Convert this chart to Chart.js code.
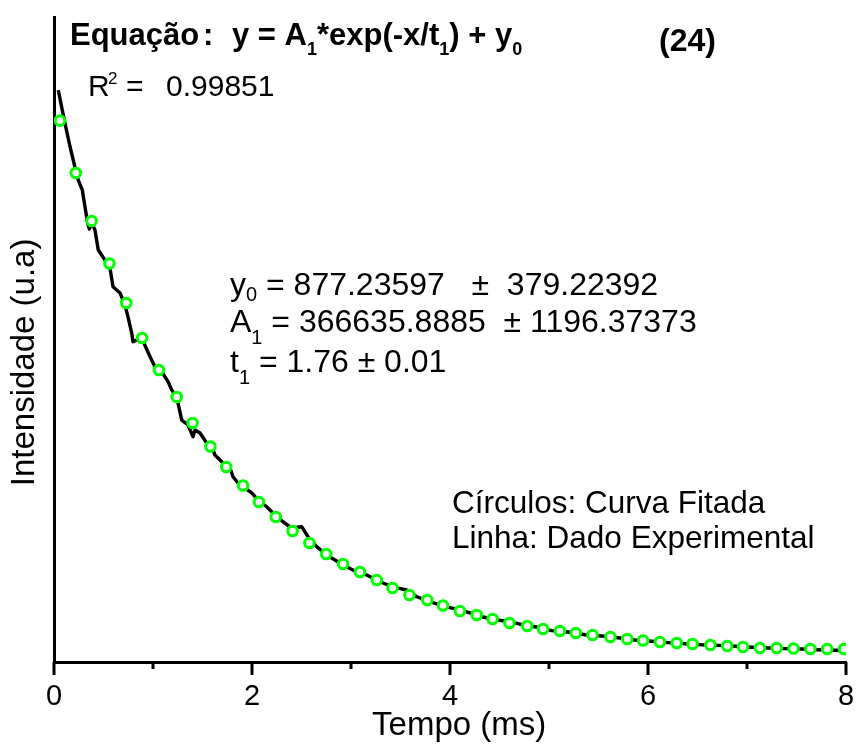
<!DOCTYPE html>
<html><head><meta charset="utf-8">
<script src="https://cdn.jsdelivr.net/npm/chart.js@4.4.0/dist/chart.umd.min.js"></script>
<style>html,body{margin:0;padding:0;background:#fff}canvas{display:block}</style>
</head><body>
<canvas id="c" width="858" height="746"></canvas>
<script>
// Fitted curve (circles)
const fitX = [0.06,0.22,0.38,0.56,0.73,0.89,1.06,1.24,1.40,1.58,1.74,1.91,2.07,2.24,2.41,2.58,2.75,2.92,3.09,3.26,3.42,3.59,3.77,3.93,4.10,4.27,4.43,4.60,4.78,4.94,5.11,5.27,5.44,5.62,5.79,5.95,6.12,6.29,6.45,6.63,6.80,6.96,7.13,7.30,7.47,7.64,7.81,7.98];
const fitY = [355900,321000,289000,260700,234300,211000,189700,171700,154300,138700,125000,112700,101700,91700,82300,74300,67000,60300,55000,49700,44300,39700,36300,32700,29000,26300,23700,21000,19000,17000,15700,14300,13000,11700,10300,9300,8300,7700,7000,6300,5700,5000,4300,4300,4000,3700,3700,3700];
// Experimental data (black line)
const expX = [0.043,0.111,0.162,0.202,0.245,0.286,0.313,0.340,0.357,0.381,0.414,0.447,0.482,0.532,0.559,0.596,0.667,0.717,0.747,0.785,0.798,0.835,0.886,0.970,1.020,1.088,1.152,1.189,1.239,1.290,1.354,1.404,1.424,1.475,1.542,1.593,1.626,1.707,1.778,1.808,1.859,1.929,1.997,2.061,2.148,2.232,2.313,2.401,2.502,2.566,2.654,2.755,2.838,2.919,3.020,3.159,3.293,3.374,3.475,3.562,3.664,3.798,3.929,4.068,4.202,4.333,4.472,4.606,4.737,4.876,5.027,5.192,5.364,5.532,5.697,5.869,6.037,6.202,6.374,6.542,6.707,6.879,7.047,7.212,7.384,7.552,7.717,7.889,8.000];
const expY = [376300,354100,338500,327500,316300,309700,298500,287500,283700,287700,283000,269700,266300,261200,260300,245200,241000,233000,225200,214300,208500,209700,211000,198500,191900,188500,181900,176300,171700,156300,153000,145200,149700,147700,141000,138500,133000,127700,124300,118500,114300,111000,107700,103000,98500,93000,88500,84300,85200,78500,71900,66300,63000,59700,56300,53000,48500,46300,44300,43000,38500,35200,32300,30300,27700,25000,23000,21900,19700,18300,15900,15000,13200,12300,11200,9700,8800,7900,7200,6500,6100,5500,4800,4300,3900,3700,3200,2800,2500];
const xMajorTicks = [0,2,4,6,8];
const xMinorTicks = [1,3,5,7];
const xTitle = '  Tempo (ms)';
const yTitle = 'Intensidade (u.a)     ';
const legendLines = ['Círculos: Curva Fitada', 'Linha: Dado Experimental'];

const FONT = '"Liberation Sans", Arial, Helvetica, sans-serif';
Chart.defaults.font.family = FONT;
Chart.defaults.color = '#000';

function runs(ctx, x, y, parts) {
  for (const p of parts) {
    ctx.font = p.f;
    if (p.x !== undefined) x = p.x;
    ctx.fillText(p.t, x, y + (p.dy || 0));
    x += ctx.measureText(p.t).width;
  }
}

const overlay = {
  id: 'overlay',
  afterDraw(chart) {
    const ctx = chart.ctx;
    const xs = chart.scales.x;
    const b = chart.chartArea.bottom;
    ctx.save();
    ctx.strokeStyle = '#000';
    ctx.lineWidth = 3;
    ctx.lineCap = 'butt';
    xMajorTicks.forEach(v => { const p = xs.getPixelForValue(v); ctx.beginPath(); ctx.moveTo(p, b); ctx.lineTo(p, b + 13); ctx.stroke(); });
    xMinorTicks.forEach(v => { const p = xs.getPixelForValue(v); ctx.beginPath(); ctx.moveTo(p, b); ctx.lineTo(p, b + 7); ctx.stroke(); });

    ctx.fillStyle = '#000';
    ctx.textAlign = 'left';
    ctx.textBaseline = 'alphabetic';
    const B = 'bold 31px ' + FONT, Bs = 'bold 18px ' + FONT;
    runs(ctx, 70, 45, [
      {t: 'Equação', f: B},
      {t: ':', f: B, x: 203},
      {t: 'y = A', f: B, x: 232},
      {t: '1', f: Bs, dy: 10},
      {t: '*exp(-x/t', f: B},
      {t: '1', f: Bs, dy: 10},
      {t: ') + y', f: B},
      {t: '0', f: Bs, dy: 10}
    ]);
    runs(ctx, 659, 51, [{t: '(24)', f: 'bold 32px ' + FONT}]);

    const N30 = '30px ' + FONT;
    runs(ctx, 88, 96, [{t: 'R', f: N30}]);
    runs(ctx, 108, 84, [{t: '2', f: '17px ' + FONT}]);
    runs(ctx, 126, 96, [{t: '=', f: N30}]);
    runs(ctx, 166, 96, [{t: '0.99851', f: N30}]);

    const N = '32px ' + FONT, Ns = '20px ' + FONT;
    runs(ctx, 230, 295, [{t: 'y', f: N}, {t: '0', f: Ns, dy: 6}, {t: ' = 877.23597   \u00b1  379.22392', f: N}]);
    runs(ctx, 230, 332, [{t: 'A', f: N}, {t: '1', f: Ns, dy: 12}, {t: ' = 366635.8885  \u00b1 1196.37373', f: N}]);
    runs(ctx, 230, 372, [{t: 't', f: N}, {t: '1', f: Ns, dy: 12}, {t: ' = 1.76 \u00b1 0.01', f: N}]);

    const L = '31.5px ' + FONT;
    runs(ctx, 452, 513, [{t: legendLines[0], f: L}]);
    runs(ctx, 452, 548, [{t: legendLines[1], f: L}]);
    ctx.restore();
  }
};

new Chart(document.getElementById('c'), {
  type: 'line',
  data: {
    datasets: [
      {
        label: 'Curva Fitada',
        data: fitX.map((x, i) => ({x, y: fitY[i]})),
        showLine: false,
        pointRadius: 4.8,
        pointBorderWidth: 3,
        pointBorderColor: '#00ff00',
        pointBackgroundColor: '#ffffff',
        order: 0
      },
      {
        label: 'Dado Experimental',
        data: expX.map((x, i) => ({x, y: expY[i]})),
        borderColor: '#000000',
        borderWidth: 3.4,
        pointRadius: 0,
        tension: 0,
        borderJoinStyle: 'round',
        order: 1
      }
    ]
  },
  options: {
    responsive: false,
    devicePixelRatio: 1,
    animation: false,
    layout: {padding: {top: 17, right: 12, bottom: 0, left: 0}},
    plugins: {legend: {display: false}, tooltip: {enabled: false}},
    scales: {
      x: {
        type: 'linear', min: 0, max: 8,
        grid: {display: false, drawTicks: false},
        border: {display: true, color: '#000', width: 3},
        ticks: {stepSize: 2, padding: 18, font: {size: 29, lineHeight: 1.2}, color: '#000', maxRotation: 0},
        title: {display: true, text: xTitle, font: {size: 33, lineHeight: 1.2}, color: '#000', padding: {top: 0, bottom: 0}},
        afterFit(s) { s.height = 84; s.paddingLeft = 0; s.paddingRight = 0; }
      },
      y: {
        type: 'linear', min: -5000, max: 425000,
        grid: {display: false, drawTicks: false},
        border: {display: true, color: '#000', width: 3},
        ticks: {display: false},
        title: {display: true, text: yTitle, font: {size: 33, lineHeight: 1.2}, color: '#000', padding: {top: 5, bottom: 0}},
        afterFit(s) { s.width = 54; s.paddingTop = 0; s.paddingBottom = 0; }
      }
    }
  },
  plugins: [overlay]
});
</script>
</body></html>
